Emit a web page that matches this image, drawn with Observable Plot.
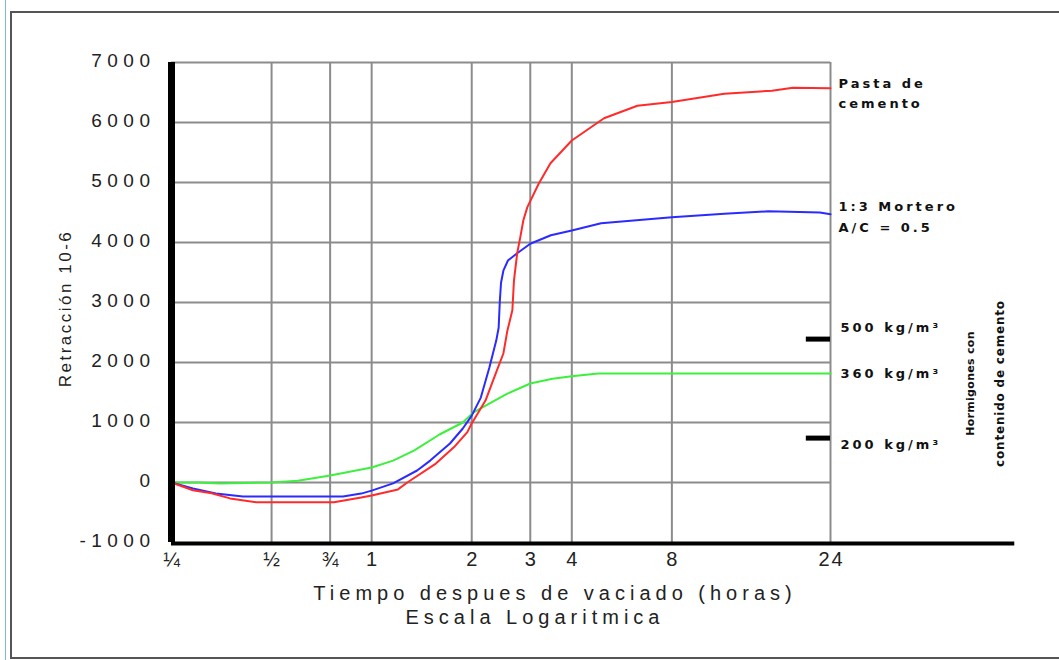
<!DOCTYPE html>
<html>
<head>
<meta charset="utf-8">
<script src="https://cdn.jsdelivr.net/npm/d3@7"></script>
<script src="https://cdn.jsdelivr.net/npm/@observablehq/plot@0.6"></script>
<style>
  html, body { margin: 0; padding: 0; background: #fff; }
  #wrap { position: relative; width: 1059px; height: 660px; overflow: hidden; }
  #frame { position: absolute; left: 10px; top: 11px; width: 1100px; height: 644px;
           border-top: 2px solid #555; border-left: 2px solid #555; border-bottom: 2px solid #555; }
  #edge { position: absolute; left: 5px; top: 0; width: 1px; height: 660px; background: #7fb8c8; }
  #chart { position: absolute; left: 0; top: 0; }
  [aria-description="ytick"] text { letter-spacing: 5.5px; }
  [aria-description="xtick"] text { letter-spacing: 2px; }
  [aria-description="xtitle"] text { letter-spacing: 5px; }
  [aria-description="ytitle"] text { letter-spacing: 2.5px; }
  [aria-description="rlabel"] text { letter-spacing: 3px; }
  [aria-description="vtitle1"] text { letter-spacing: 0.3px; }
  [aria-description="vtitle2"] text { letter-spacing: 0.8px; }
</style>
</head>
<body>
<div id="wrap"><div id="edge"></div><div id="frame"></div><div id="chart"></div></div>
<script>
// ---- data ----
const pastaT = [0.25,0.29,0.33,0.375,0.45,0.77,0.93,1.0,1.2,1.28,1.56,1.77,1.94,2.0,2.2,2.37,2.49,2.56,2.65,2.68,2.74,2.8,2.86,2.94,3.18,3.45,4,5,6.3,8,11.5,16,18.5,24];
const pastaV = [0,-130,-180,-265,-330,-330,-250,-215,-115,0,315,590,840,985,1365,1840,2150,2530,2870,3370,3820,4090,4370,4590,4980,5320,5700,6070,6280,6340,6480,6530,6580,6570];

const morteroT = [0.25,0.29,0.34,0.41,0.82,0.93,1.0,1.16,1.37,1.5,1.72,1.88,2.0,2.13,2.26,2.37,2.41,2.43,2.45,2.49,2.57,2.74,3.0,3.46,4,4.9,8,11.5,15.6,22.3,24];
const morteroV = [0,-100,-185,-235,-235,-185,-135,-15,200,365,650,900,1115,1415,1915,2365,2580,3030,3330,3530,3700,3820,3980,4120,4200,4320,4420,4480,4520,4500,4470];

const h360T = [0.25,0.3,0.35,0.5,0.6,0.75,1.0,1.16,1.34,1.6,1.88,2.02,2.3,2.56,3.0,3.5,4.0,4.8,8,24];
const h360V = [0,0,-15,0,30,115,250,365,530,800,1000,1165,1340,1480,1650,1730,1770,1815,1815,1815];

const xTickValues = [0.25,0.5,0.75,1,2,3,4,8,24];
const xTickLabels = ["¼","½","¾","1","2","3","4","8","24"];
const yTickValues = [-1000,0,1000,2000,3000,4000,5000,6000,7000];
const yTickLabels = ["-1000","0","1000","2000","3000","4000","5000","6000","7000"];

const seriesNames = ["Pasta de\ncemento", "1:3 Mortero\nA/C = 0.5"];
const seriesLabelY = [6520, 4460];

const contentNames = ["500 kg/m³", "360 kg/m³", "200 kg/m³"];
const contentLabelY = [2580, 1815, 635];
const contentMarkY = [2390, 740];
const contentMarkStart = 20.3;   // start (hours) of the short black markers at the right edge
const xAxisEnd = 86;             // the bottom axis line runs past the last tick

const colors = {pasta: "#ff2b2b", mortero: "#2b2bff", h360: "#3ef03e"};

const toRows = (T, V) => T.map((t, i) => ({t, v: V[i]}));
const pasta = toRows(pastaT, pastaV);
const mortero = toRows(morteroT, morteroV);
const h360 = toRows(h360T, h360V);

const xTicks = xTickValues.map((x, i) => ({x, label: xTickLabels[i]}));
const yTicks = yTickValues.map((y, i) => ({y, label: yTickLabels[i]}));
const seriesLabels = seriesNames.map((text, i) => ({text, y: seriesLabelY[i]}));
const contentLabels = contentNames.map((text, i) => ({text, y: contentLabelY[i]}));

const gridColor = "#8c8c8c";
const sans = "'Liberation Sans', Arial, sans-serif";
const pix = "'DejaVu Sans', sans-serif";

const chart = Plot.plot({
  width: 1059,
  height: 660,
  marginLeft: 171,
  marginRight: 229,
  marginTop: 62,
  marginBottom: 118,
  x: {type: "log", domain: [0.25, 24], axis: null},
  y: {domain: [-1000, 7000], axis: null},
  style: {background: "transparent", overflow: "visible", fontFamily: sans},
  marks: [
    // grid
    Plot.ruleX(xTickValues.slice(1), {stroke: gridColor, strokeWidth: 2, y1: -1000, y2: 7000}),
    Plot.ruleY(yTickValues.slice(1), {stroke: gridColor, strokeWidth: 2, x1: 0.25, x2: 24}),
    // series
    Plot.line(h360, {x: "t", y: "v", stroke: colors.h360, strokeWidth: 2}),
    Plot.line(mortero, {x: "t", y: "v", stroke: colors.mortero, strokeWidth: 2}),
    Plot.line(pasta, {x: "t", y: "v", stroke: colors.pasta, strokeWidth: 2}),
    // axes
    Plot.ruleY([-1000], {x1: 0.25, x2: xAxisEnd, stroke: "#000", strokeWidth: 4, dy: 1}),
    Plot.ruleX([0.25], {y1: -1000, y2: 7000, stroke: "#000", strokeWidth: 7}),
    Plot.text(yTicks, {x: 0.25, y: "y", text: "label", textAnchor: "end", dx: -16, dy: -2,
      fontSize: 19, fill: "#222", ariaDescription: "ytick"}),
    Plot.text(xTicks, {x: "x", y: -1000, text: "label", dy: 17, dx: 1, fontSize: 20, fill: "#222",
      ariaDescription: "xtick"}),
    Plot.text(["Tiempo despues de vaciado (horas)"], {frameAnchor: "bottom", textAnchor: "middle",
      dx: 54, dy: 57, fontSize: 20, fill: "#222", ariaDescription: "xtitle"}),
    Plot.text(["Escala Logaritmica"], {frameAnchor: "bottom", textAnchor: "middle",
      dx: 34, dy: 81, fontSize: 20, fill: "#222", ariaDescription: "xtitle"}),
    Plot.text(["Retracción 10-6"], {frameAnchor: "left", textAnchor: "middle", rotate: -90,
      dx: -106, dy: 6, fontSize: 17, fill: "#222", ariaDescription: "ytitle"}),
    // right-side annotations
    Plot.text(seriesLabels, {x: 24, y: "y", text: "text", textAnchor: "start", dx: 8,
      fontFamily: pix, fontWeight: "bold", fontSize: 13, lineHeight: 1.6, fill: "#111",
      ariaDescription: "rlabel"}),
    Plot.ruleY(contentMarkY, {x1: contentMarkStart, x2: 24, stroke: "#000", strokeWidth: 5}),
    Plot.text(contentLabels, {x: 24, y: "y", text: "text", textAnchor: "start", dx: 10,
      fontFamily: pix, fontWeight: "bold", fontSize: 13, fill: "#111", ariaDescription: "rlabel"}),
    Plot.text(["Hormigones con"], {x: 24, y: 1650, rotate: -90, dx: 140,
      fontFamily: pix, fontWeight: "bold", fontSize: 11, fill: "#111", ariaDescription: "vtitle1"}),
    Plot.text(["contenido de cemento"], {x: 24, y: 1650, rotate: -90, dx: 170,
      fontFamily: pix, fontWeight: "bold", fontSize: 12, fill: "#111", ariaDescription: "vtitle2"})
  ]
});
document.getElementById("chart").appendChild(chart);
</script>
</body>
</html>
